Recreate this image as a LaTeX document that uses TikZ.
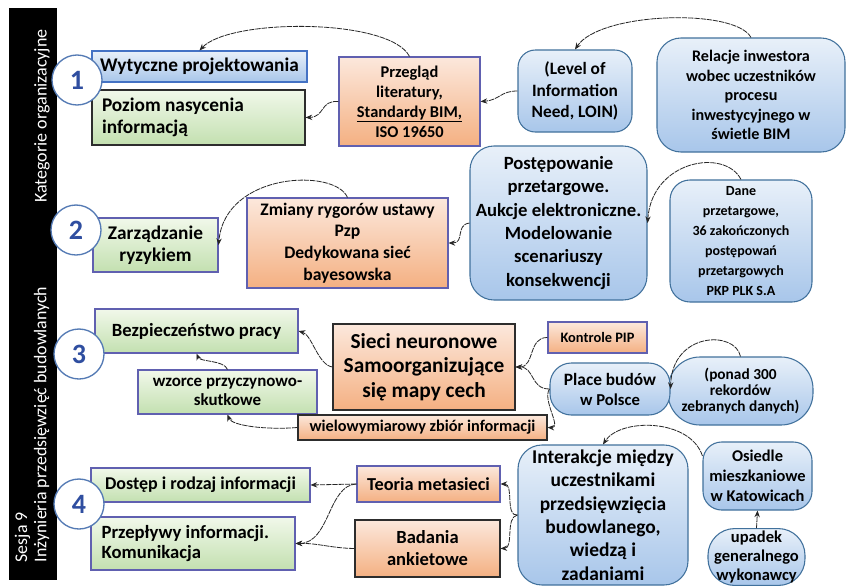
\documentclass[tikz,border=0pt]{standalone}
\usepackage{fontspec}
\setmainfont{Carlito}
\usetikzlibrary{arrows.meta}

\definecolor{bluedge}{RGB}{65,113,156}
\definecolor{bluetop}{RGB}{232,240,249}
\definecolor{bluebot}{RGB}{168,198,234}
\definecolor{rectedge}{RGB}{68,114,196}
\definecolor{greentop}{RGB}{241,248,234}
\definecolor{greenbot}{RGB}{195,224,176}
\definecolor{orangetop}{RGB}{252,232,220}
\definecolor{orangebot}{RGB}{244,176,130}
\definecolor{violetedge}{RGB}{96,96,176}
\definecolor{darkedge}{RGB}{45,45,45}
\definecolor{numblue}{RGB}{47,78,160}
\definecolor{circedge}{RGB}{84,122,180}

\newcommand{\fsz}[2]{\fontsize{#1}{#2}\selectfont\bfseries}

\tikzset{
  bluebox/.style={draw=bluedge, top color=bluetop, bottom color=bluebot,
                  rounded corners=#1, line width=0.8pt, align=center, inner sep=2pt},
  bluebox/.default=16pt,
  bluerect/.style={draw=rectedge, top color=bluetop, bottom color=bluebot,
                   line width=0.8pt, inner sep=2pt},
  greenbox/.style={draw=violetedge, top color=greentop, bottom color=greenbot,
                   line width=0.8pt, align=center, inner sep=2pt},
  orangebox/.style={draw=violetedge, top color=orangetop, bottom color=orangebot,
                    line width=0.8pt, align=center, inner sep=2pt},
  numcirc/.style={circle, draw=circedge, line width=1pt, fill=white,
                  minimum size=37.5pt, inner sep=0pt, text=numblue, font=\fsz{21}{21}},
  linkarr/.style={-{Stealth[length=5pt,width=4pt]}, line width=0.6pt, black!85,
                  dash pattern=on 4pt off 0.7pt}
}

\begin{document}
\begin{tikzpicture}[x=0.75pt, y=-0.75pt]
  \useasboundingbox[fill=white] (0,0) rectangle (853,586);

  % pasek boczny
  \fill[black] (9,8) rectangle (57,580);
  \node[rotate=90, text=white, font=\fontsize{13.5}{15}\selectfont] (kat) at (42,116) {Kategorie organizacyjne};
  \node[rotate=90, anchor=west, align=flush left, text=white, font=\fontsize{13.4}{14.5}\selectfont]
    (ses) at (32,567) {Sesja 9\\Inżynieria przedsięwzięć budowlanych};

  % kategoria 1
  \node[bluerect, minimum width=161.25pt, minimum height=23.25pt, inner xsep=6pt,
        text width=149pt, align=flush left, font=\fsz{14.5}{15}] (wyt) at (199.5,66.5) {Wytyczne projektowania};
  \node[greenbox, draw=darkedge, minimum height=41.25pt, inner xsep=7.5pt,
        text width=144.75pt, align=flush left, font=\fsz{14.5}{17}] (poz) at (198.5,117.5) {Poziom nasycenia\\informacją};
  \node[orangebox, minimum width=105.75pt, minimum height=66.75pt, font=\fsz{12.3}{15}]
    (prz) at (409.5,101.5) {Przegląd\\literatury,\\\underline{Standardy BIM,}\\ISO 19650};
  \node[bluebox=13pt, minimum width=85.5pt, minimum height=61.5pt, font=\fsz{13}{16}]
    (loin) at (575,91) {(Level of\\Information\\Need, LOIN)};
  \node[bluebox=18pt, minimum width=141pt, minimum height=85.5pt, font=\fsz{12.1}{14.6}]
    (rel) at (751,95) {Relacje inwestora\\wobec uczestników\\procesu\\inwestycyjnego w\\świetle BIM};

  % kategoria 2
  \node[greenbox, minimum width=93.75pt, minimum height=40.5pt, font=\fsz{14.5}{16.5}]
    (zarz) at (155.5,245) {Zarządzanie\\ryzykiem};
  \node[orangebox, minimum width=150.75pt, minimum height=67.5pt, font=\fsz{13.2}{16.3}]
    (zmi) at (347.5,243) {Zmiany rygorów ustawy\\Pzp\\Dedykowana sieć\\bayesowska};
  \node[bluebox=18pt, minimum width=132.75pt, minimum height=115.5pt, font=\fsz{14}{17.5}]
    (post) at (558.5,223) {Postępowanie\\przetargowe.\\Aukcje elektroniczne.\\Modelowanie\\scenariuszy\\konsekwencji};
  \node[bluebox=15pt, minimum width=106.5pt, minimum height=91.5pt, font=\fsz{10.5}{15}]
    (dane) at (741,241) {Dane\\przetargowe,\\36 zakończonych\\postępowań\\przetargowych\\PKP PLK S.A};

  % kategoria 3
  \node[greenbox, minimum width=152.25pt, minimum height=33pt, font=\fsz{14}{15}]
    (bhp) at (196.5,331) {Bezpieczeństwo pracy};
  \node[greenbox, minimum width=134.25pt, minimum height=33pt, font=\fsz{12.7}{14}]
    (wzo) at (227.5,392) {wzorce przyczynowo-\\skutkowe};
  \node[orangebox, draw=darkedge, minimum width=136.5pt, minimum height=64.5pt, font=\fsz{16}{18.5}]
    (sieci) at (424,367) {Sieci neuronowe\\Samoorganizujące\\się mapy cech};
  \node[orangebox, draw=darkedge, minimum width=186.75pt, minimum height=18.75pt, font=\fsz{12.2}{14}]
    (wiel) at (422.5,427.5) {wielowymiarowy zbiór informacji};
  \node[orangebox, minimum width=74.25pt, minimum height=23.25pt, font=\fsz{10.8}{13}]
    (pip) at (597.5,337.5) {Kontrole PIP};
  \node[bluebox=24pt, minimum width=108.75pt, minimum height=51pt, font=\fsz{11.5}{12}]
    (ponad) at (740.5,391) {(ponad 300\\rekordów\\zebranych danych)};
  \node[bluebox=16pt, minimum width=90pt, minimum height=39pt, font=\fsz{13}{15}]
    (place) at (610,389) {Place budów\\{\fsz{12.5}{15}w Polsce}};

  % kategoria 4
  \node[greenbox, minimum width=164.25pt, minimum height=25.5pt, font=\fsz{13.5}{15}]
    (dost) at (200.5,485) {Dostęp i rodzaj informacji};
  \node[greenbox, minimum height=39.75pt, inner xsep=8pt, text width=137pt, align=flush left, font=\fsz{14}{15}]
    (przep) at (193,543.5) {Przepływy informacji.\\Komunikacja};
  \node[orangebox, minimum width=107.25pt, minimum height=27pt, font=\fsz{13.7}{15}]
    (teo) at (428.5,484) {Teoria metasieci};
  \node[orangebox, draw=darkedge, minimum width=108.75pt, minimum height=42.75pt, font=\fsz{13.9}{16.5}]
    (bad) at (427.5,548.5) {Badania\\ankietowe};
  \node[bluebox=18pt, minimum width=127.5pt, minimum height=105pt, font=\fsz{14.6}{17.5}]
    (inter) at (603,515) {Interakcje między\\uczestnikami\\przedsięwzięcia\\budowlanego,\\wiedzą i\\zadaniami};
  \node[bluebox=14pt, minimum width=81.75pt, minimum height=51pt, font=\fsz{12.3}{15}]
    (osi) at (757.5,476) {Osiedle\\mieszkaniowe\\w Katowicach};
  \node[bluebox=20pt, minimum width=72.75pt, minimum height=40pt, font=\fsz{12.4}{14}]
    (upa) at (756.5,557) {upadek\\generalnego\\wykonawcy};

  % numery kategorii
  \node[numcirc] (n1) at (77,80) {1};
  \node[numcirc] (n2) at (76,230) {2};
  \node[numcirc] (n3) at (79,354) {3};
  \node[numcirc] (n4) at (79,504) {4};

  % powiazania
  \draw[linkarr] (rel.north) .. controls (735,8) and (600,12) .. (loin.north);
  \draw[linkarr] (loin.west) .. controls (500,91) and (500,100) .. (prz.east);
  \draw[linkarr] (prz.north) .. controls (390,18) and (230,18) .. (wyt.north);
  \draw[linkarr] (prz.west) .. controls (320,100) and (325,117) .. (poz.east);

  \draw[linkarr] (dane.north) .. controls (725,148) and (652,160) .. (post.east);
  \draw[linkarr] (post.west) .. controls (455,225) and (465,243) .. (zmi.east);
  \draw[linkarr] (zmi.north) .. controls (335,168) and (225,172) .. (zarz.east);

  \draw[linkarr] (ponad.north) .. controls (735,330) and (672,332) .. (place.east);
  \draw[linkarr] (pip.west) .. controls (528,337) and (535,367) .. (sieci.east);
  \draw[linkarr] (place.west) .. controls (530,389) and (535,367) .. (sieci.east);
  \draw[linkarr] (place.west) .. controls (542,400) and (562,428) .. (wiel.east);
  \draw[linkarr] (sieci.west) .. controls (318,365) and (312,335) .. (bhp.east);
  \draw[linkarr] (wzo.north) .. controls (224,360) and (200,362) .. (bhp.south);
  \draw[linkarr] (wiel.west) .. controls (268,430) and (232,426) .. (wzo.south);

  \draw[linkarr] (osi.160) .. controls (690,418) and (620,418) .. (inter.north);
  \draw[linkarr] (upa.north) -- (osi.south);
  \draw[linkarr] (inter.west) .. controls (505,517) and (514,484) .. (teo.east);
  \draw[linkarr] (inter.west) .. controls (505,517) and (514,548) .. (bad.east);
  \draw[linkarr] (teo.west) -- (dost.east);
  \draw[linkarr] (teo.west) .. controls (328,485) and (330,543) .. (przep.east);
  \draw[linkarr] (bad.west) .. controls (330,548) and (318,543) .. (przep.east);
\end{tikzpicture}
\end{document}
